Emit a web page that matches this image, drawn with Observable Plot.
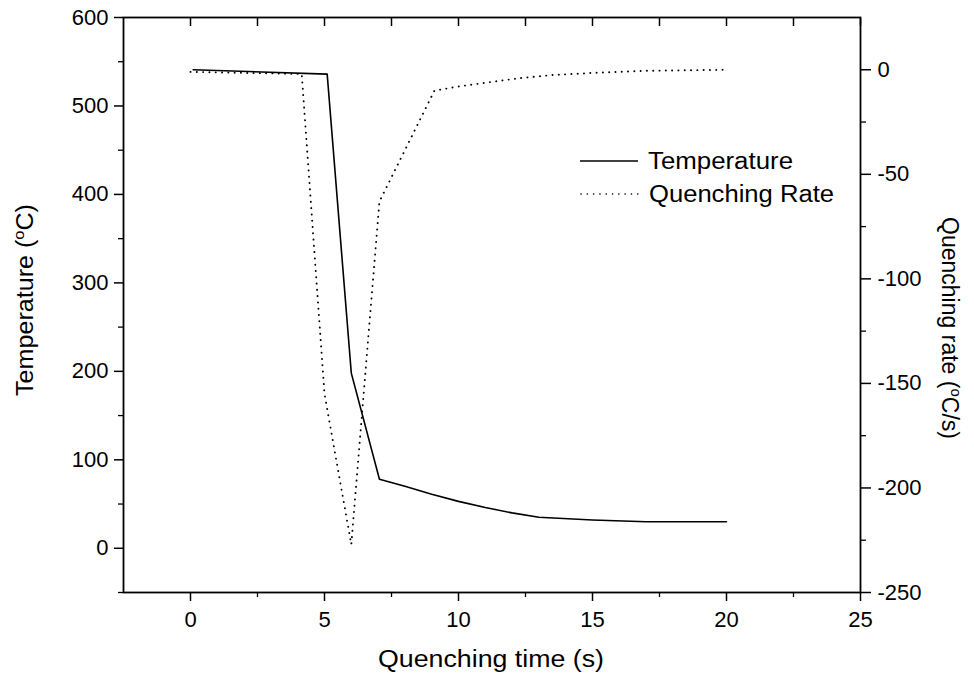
<!DOCTYPE html>
<html>
<head>
<meta charset="utf-8">
<script src="https://cdn.jsdelivr.net/npm/d3@7"></script>
<script src="https://cdn.jsdelivr.net/npm/@observablehq/plot@0.6"></script>
<style>
  html, body { margin: 0; padding: 0; background: #fff; }
  #wrap { position: relative; width: 974px; height: 679px; font-family: "Liberation Sans", Arial, sans-serif; }
  #wrap svg { position: absolute; left: 0; top: 0; }
</style>
</head>
<body>
<div id="wrap"></div>
<script>
// ---- data ----
const timeT = [0.1, 5.1, 6.0, 7.05, 8, 9, 10, 11, 12, 13, 15, 17, 20];
const temperature = [541, 536, 198, 78, 70, 61, 53, 46, 40, 35, 32, 30, 30];

const timeQ = [0, 4.15, 5.0, 6.0, 7.05, 9.1, 10, 11.7, 12.3, 13.5, 15, 17, 20];
const quenchRate = [-1, -2, -155, -227, -63, -10, -8, -5, -4, -2.5, -1.5, -0.5, 0];

const xTicks = [0, 5, 10, 15, 20, 25];
const xMinor = [2.5, 7.5, 12.5, 17.5, 22.5];
const xTop = [0, 2.5, 5, 7.5, 10, 12.5, 15, 17.5, 20, 22.5, 25];
const yLeftTicks = [0, 100, 200, 300, 400, 500, 600];
const yLeftMinor = [-50, 50, 150, 250, 350, 450, 550];
const yRightTicks = [0, -50, -100, -150, -200, -250];
const yRightMinor = [-225, -175, -125, -75, -25];

const tempRows = timeT.map((t, i) => ({t, v: temperature[i]}));
const rateRows = timeQ.map((t, i) => ({t, v: quenchRate[i]}));

const W = 974, H = 679;
const M = {marginLeft: 123, marginRight: 114, marginTop: 17, marginBottom: 87};
const FONT = "'Liberation Sans', Arial, sans-serif";
const fmt = d => String(d);
const style = {fontFamily: FONT, fontSize: "22px", color: "#000", background: "transparent", overflow: "visible"};

const p1 = Plot.plot({
  width: W, height: H, ...M, style,
  x: {domain: [-2.5, 25]},
  y: {domain: [-50, 600]},
  marks: [
    Plot.frame({stroke: "#000", strokeWidth: 1.8}),
    Plot.axisX({ticks: xTicks, tickSize: 9, tickPadding: 10, label: null, strokeWidth: 1.5, tickFormat: fmt}),
    Plot.axisX({ticks: xMinor, tickSize: 5, label: null, fill: "none", strokeWidth: 1.3}),
    Plot.axisX({anchor: "top", ticks: xTop, tickSize: -8, label: null, fill: "none", strokeWidth: 1.5}),
    Plot.axisY({ticks: yLeftTicks, tickSize: 9, tickPadding: 6, label: null, strokeWidth: 1.5, tickFormat: fmt}),
    Plot.axisY({ticks: yLeftMinor, tickSize: 5, label: null, fill: "none", strokeWidth: 1.3}),
    Plot.line(tempRows, {x: "t", y: "v", stroke: "#000", strokeWidth: 1.6})
  ]
});

const p2 = Plot.plot({
  width: W, height: H, ...M, style,
  x: {domain: [-2.5, 25], axis: null},
  y: {domain: [-250, 25]},
  marks: [
    Plot.axisY({anchor: "right", ticks: yRightTicks, tickSize: 10, tickPadding: 7, label: null, strokeWidth: 1.5, tickFormat: fmt}),
    Plot.axisY({anchor: "right", ticks: yRightMinor, tickSize: 5, label: null, fill: "none", strokeWidth: 1.3}),
    Plot.line(rateRows, {x: "t", y: "v", stroke: "#000", strokeWidth: 1.9, strokeDasharray: "0.1,6.2", strokeLinecap: "round"})
  ]
});

const wrap = document.getElementById("wrap");
wrap.appendChild(p1);
wrap.appendChild(p2);

// ---- titles and legend ----
const svg = d3.select(p2);
function degLabel(g, before, after) {
  g.append("tspan").text(before);
  g.append("tspan").attr("font-size", 15).attr("dy", -9).text("o");
  g.append("tspan").attr("dy", 9).text(after);
}
function txt(parent, anchor) {
  return parent.append("text").attr("text-anchor", anchor)
    .attr("font-family", FONT).attr("font-size", 23).attr("fill", "#000")
    .attr("lengthAdjust", "spacingAndGlyphs");
}
txt(svg, "middle").attr("x", 491).attr("y", 667).attr("textLength", 226)
  .text("Quenching time (s)");

const ly = txt(svg, "middle").attr("transform", "translate(33,300) rotate(-90)").attr("textLength", 192);
degLabel(ly, "Temperature (", "C)");

const ry = txt(svg, "middle").attr("transform", "translate(942,328) rotate(90)").attr("textLength", 222);
degLabel(ry, "Quenching rate (", "C/s)");

const leg = svg.append("g");
leg.append("line").attr("x1", 580).attr("x2", 638).attr("y1", 161).attr("y2", 161)
  .attr("stroke", "#000").attr("stroke-width", 1.3);
leg.append("line").attr("x1", 581).attr("x2", 640).attr("y1", 194).attr("y2", 194)
  .attr("stroke", "#000").attr("stroke-width", 1.6).attr("stroke-dasharray", "0.1,6.2").attr("stroke-linecap", "round");
txt(leg, "start").attr("x", 648).attr("y", 169).attr("textLength", 145).text("Temperature");
txt(leg, "start").attr("x", 649).attr("y", 202).attr("textLength", 185).text("Quenching Rate");
</script>
</body>
</html>
